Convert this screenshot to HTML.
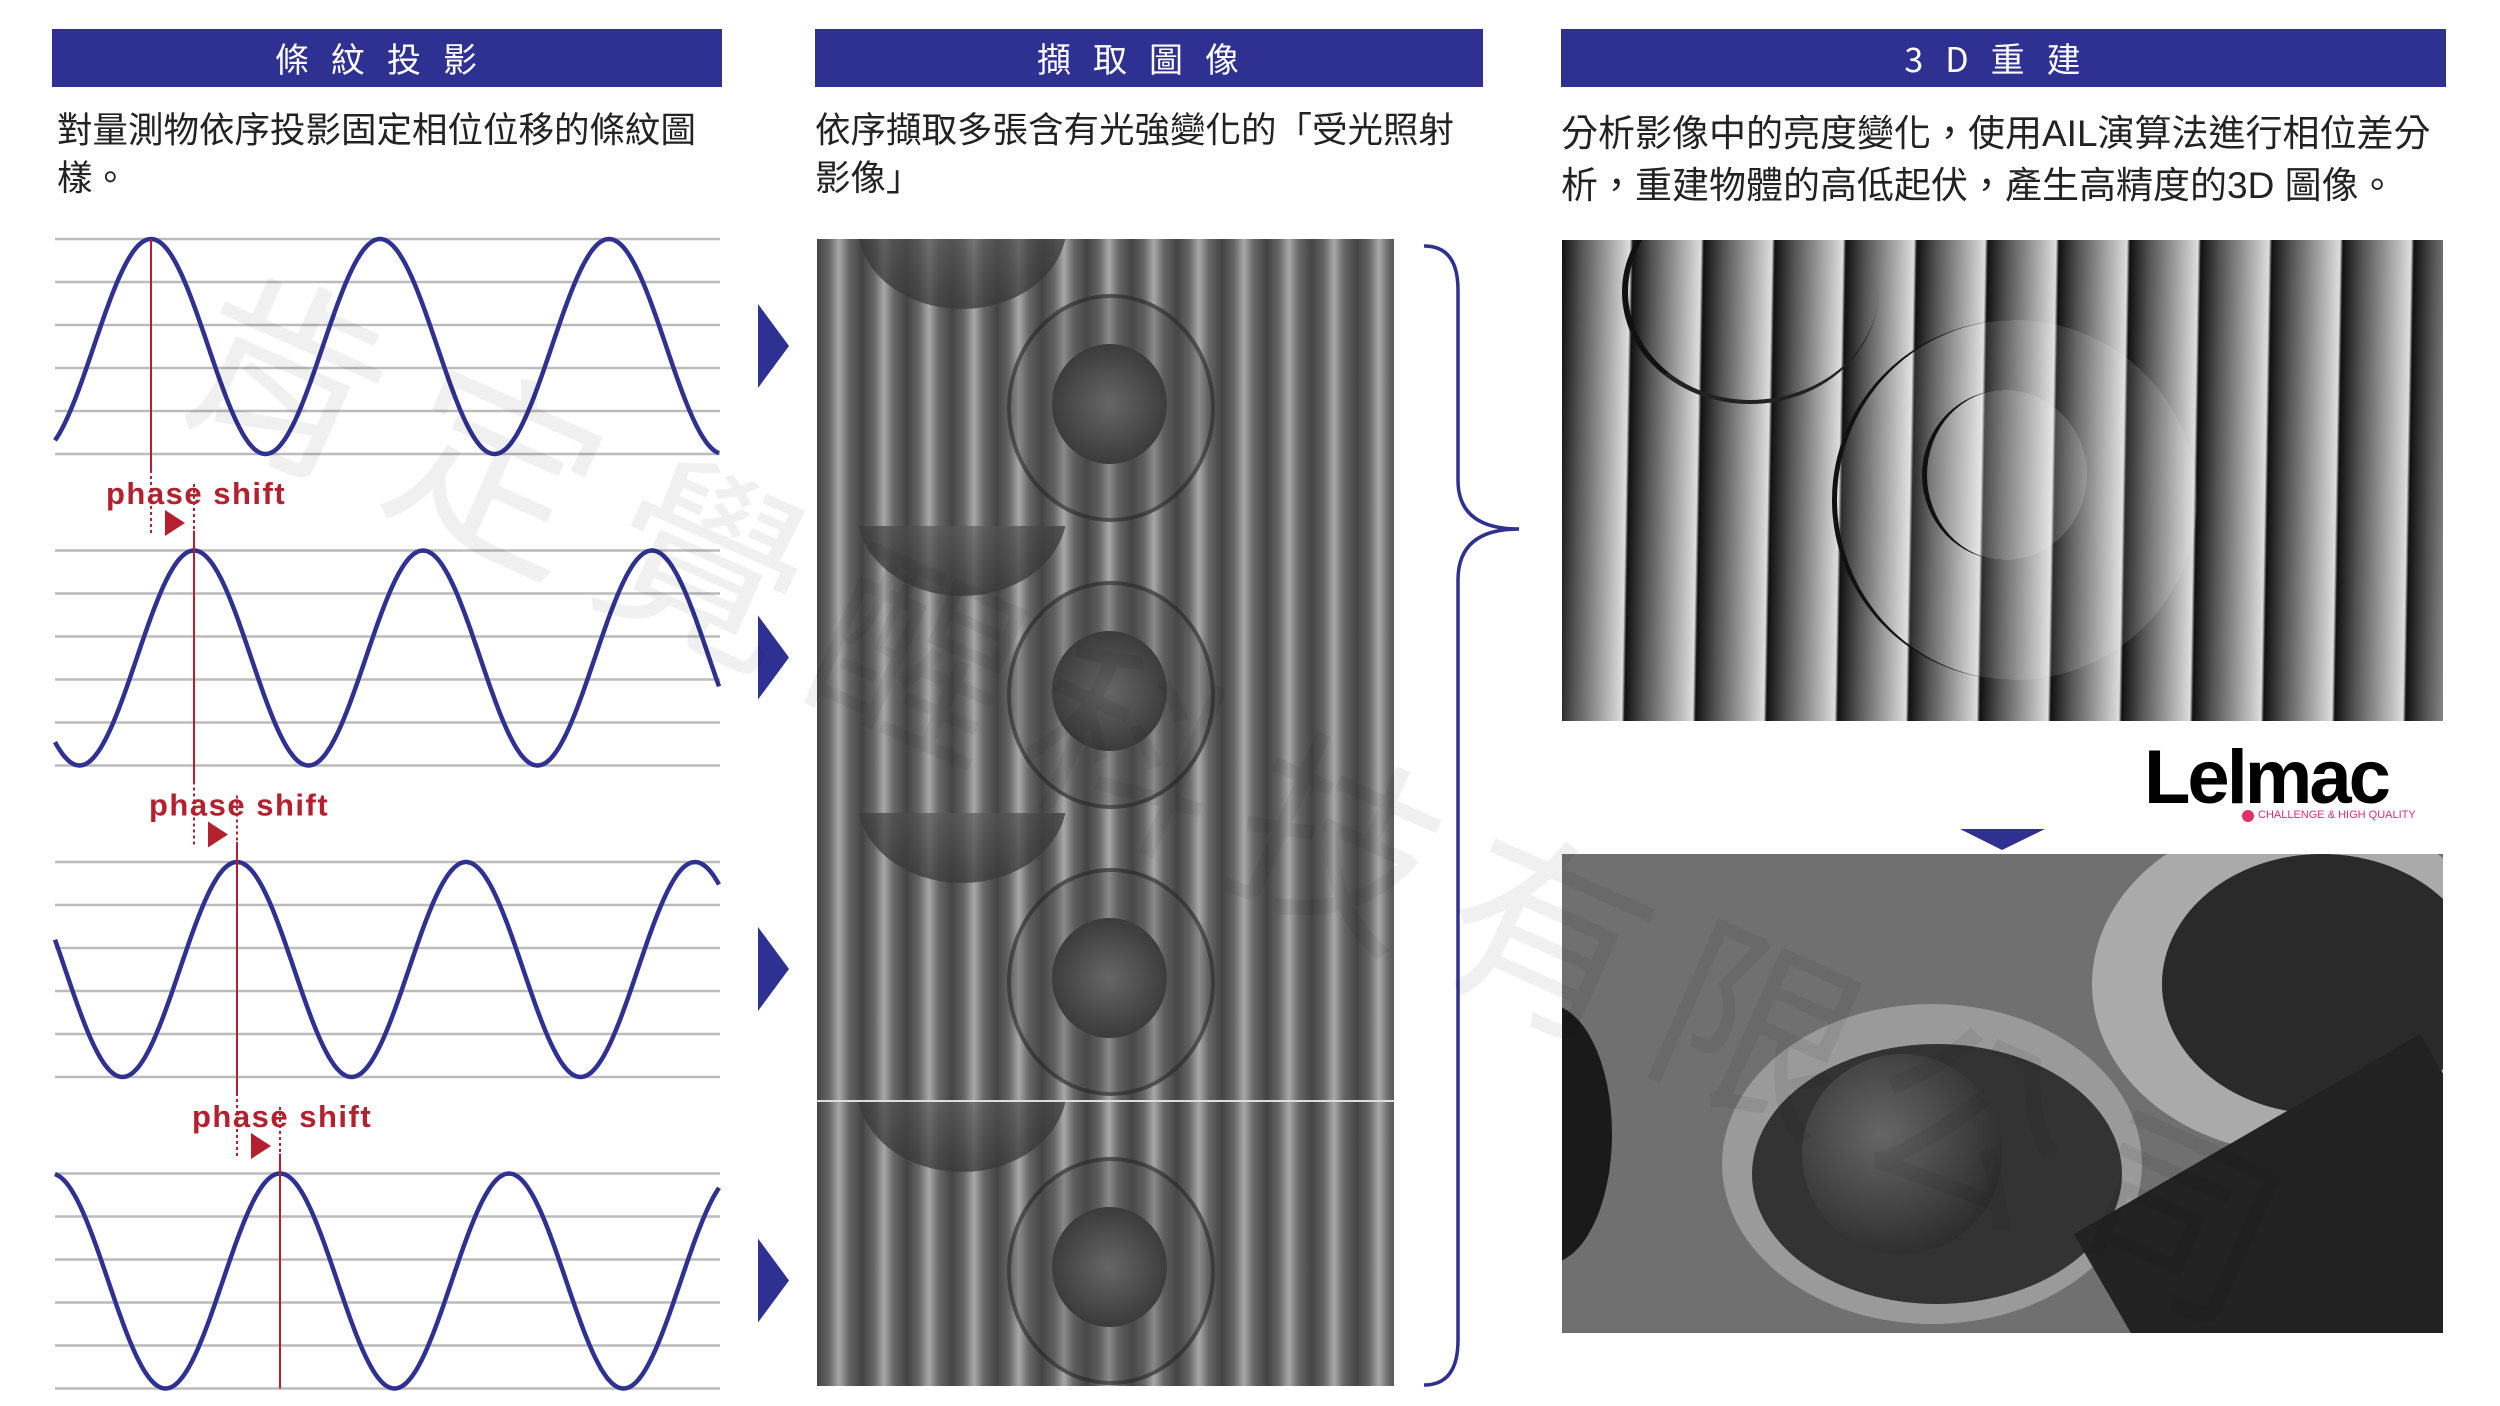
<!DOCTYPE html>
<html style="overflow:hidden;width:2500px;height:1406px;"><head><meta charset="utf-8"><style>
html,body{margin:0;padding:0;background:#fff;}
body{width:2500px;height:1406px;position:relative;overflow:hidden;font-family:"Liberation Sans","Noto Sans CJK TC",sans-serif;}
.hd{position:absolute;top:29px;height:58px;background:#2e3192;color:#fff;font-size:34px;line-height:58px;text-align:center;letter-spacing:22px;font-family:"Noto Sans CJK TC",sans-serif;}
.tx{position:absolute;color:#222;font-family:"Liberation Sans","Noto Sans CJK TC",sans-serif;white-space:nowrap;}
.img{position:absolute;overflow:hidden;}
.mid{width:579px;height:287px;position:absolute;left:0;overflow:hidden;
background:repeating-linear-gradient(90deg,#444 0px,#666 12px,#a8a8a8 22px,#666 32px,#444 45px);}
.wmw{position:absolute;left:0;top:0;width:2500px;height:1406px;overflow:hidden;z-index:5;pointer-events:none;}
.wm{position:absolute;left:260px;top:190px;font-size:200px;color:rgba(0,0,0,0.06);transform-origin:0 0;transform:rotate(24deg);white-space:nowrap;font-family:"Noto Sans CJK TC",sans-serif;letter-spacing:30px;}
</style></head><body>
<div class="hd" style="left:52px;width:670px;">條紋投影</div>
<div class="hd" style="left:815px;width:668px;">擷取圖像</div>
<div class="hd" style="left:1561px;width:885px;">3D重建</div>
<div class="tx" style="left:57px;top:106px;font-size:35.5px;line-height:48px;">對量測物依序投影固定相位位移的條紋圖<br>樣。</div>
<div class="tx" style="left:815px;top:106px;font-size:35.5px;line-height:48px;">依序擷取多張含有光強變化的「受光照射<br>影像」</div>
<div class="tx" style="left:1561px;top:108px;font-size:37px;line-height:52px;">分析影像中的亮度變化，使用AIL演算法進行相位差分<br>析，重建物體的高低起伏，產生高精度的3D 圖像。</div>

<svg id="waves" style="position:absolute;left:0;top:0" width="2500" height="1406"></svg>

<div class="img" style="left:817px;top:239px;width:577px;height:1147px;" id="midc"></div>

<div class="img" style="left:1562px;top:240px;width:881px;height:481px;background:repeating-linear-gradient(91deg,#111 0px,#555 20px,#aaa 50px,#ddd 68px,#111 71px);">
 <div style="position:absolute;left:270px;top:80px;width:360px;height:360px;border-radius:50%;background:rgba(255,255,255,.12);border-left:5px solid #111;"></div>
 <div style="position:absolute;left:360px;top:150px;width:160px;height:170px;border-radius:50%;background:rgba(255,255,255,.15);border-left:5px solid #111;"></div>
 <div style="position:absolute;left:60px;top:-60px;width:250px;height:220px;border-radius:50%;border-left:6px solid #111;border-bottom:4px solid #222;"></div>
</div>

<div style="position:absolute;left:2144px;top:738px;font-family:'Liberation Sans',sans-serif;font-weight:bold;font-size:76px;letter-spacing:-3px;color:#000;line-height:80px;">Lelmac</div>
<div style="position:absolute;left:2242px;top:810px;width:12px;height:12px;border-radius:50%;background:#e0306a;"></div>
<div style="position:absolute;left:2258px;top:809px;font-size:11px;color:#e0306a;font-family:'Liberation Sans',sans-serif;white-space:nowrap;">CHALLENGE &amp; HIGH QUALITY</div>

<div class="img" style="left:1562px;top:854px;width:881px;height:479px;background:#707070;">
 <div style="position:absolute;left:-80px;top:150px;width:130px;height:260px;border-radius:50%;background:#1a1a1a;"></div>
 <div style="position:absolute;left:160px;top:150px;width:420px;height:320px;border-radius:50%;background:#9a9a9a;"></div>
 <div style="position:absolute;left:190px;top:190px;width:370px;height:260px;border-radius:50%;background:#333;"></div>
 <div style="position:absolute;left:240px;top:200px;width:200px;height:200px;border-radius:50%;background:radial-gradient(circle at 40% 40%,#666,#1a1a1a);"></div>
 <div style="position:absolute;left:530px;top:-40px;width:420px;height:340px;border-radius:50%;background:#aaa;"></div>
 <div style="position:absolute;left:600px;top:0px;width:320px;height:260px;border-radius:50%;background:#2a2a2a;"></div>
 <div style="position:absolute;left:560px;top:260px;width:400px;height:300px;background:#222;transform:rotate(-30deg);"></div>
</div>

<div class="wmw"><div class="wm">肯定覺醒科技有限公司</div></div>

<script>
var mc=document.getElementById('midc'),mh='';
for(var j=0;j<4;j++){
 mh+='<div class="mid" style="top:'+(j*287)+'px;'+(j==3?'border-top:2px solid #ddd;':'')+'">'+
 '<div style="position:absolute;left:40px;top:-100px;width:210px;height:170px;border-radius:50%;background:radial-gradient(circle at 50% 30%,rgba(120,120,120,.6),rgba(40,40,40,.8));"></div>'+
 '<div style="position:absolute;left:190px;top:55px;width:200px;height:220px;border-radius:50%;border:4px solid rgba(30,30,30,.5);background:rgba(80,80,80,.35);"></div>'+
 '<div style="position:absolute;left:235px;top:105px;width:115px;height:120px;border-radius:50%;background:radial-gradient(circle,#666,#2a2a2a);"></div></div>';
}
mc.innerHTML=mh;
var s=document.getElementById('waves'),h='';
var B='#2e3192',R='#b5202e';
for(var k=0;k<4;k++){
 var y0=239+k*311.5;
 for(var i=0;i<6;i++){var y=y0+i*43;h+='<line x1="55" x2="720" y1="'+y+'" y2="'+y+'" stroke="#bbb" stroke-width="2.5"/>';}
 var px=151+43*k,P=229,A=(215)/2,c=y0+A,pts=[];
 for(var x=55;x<=720;x+=2){pts.push(x+','+(c-A*Math.cos(2*Math.PI*(x-px)/P)).toFixed(1));}
 h+='<polyline fill="none" stroke="'+B+'" stroke-width="4.5" points="'+pts.join(' ')+'"/>';
 var topY=k==0?y0:y0-20;
 h+='<line x1="'+px+'" x2="'+px+'" y1="'+topY+'" y2="'+(y0+215)+'" stroke="'+R+'" stroke-width="2"/>';
 if(k<3){
  var by=y0+215;
  h+='<line x1="'+px+'" x2="'+px+'" y1="'+by+'" y2="'+(by+16)+'" stroke="'+R+'" stroke-width="2"/>';
  h+='<line x1="'+px+'" x2="'+px+'" y1="'+(by+16)+'" y2="'+(by+82)+'" stroke="'+R+'" stroke-width="2" stroke-dasharray="3,3"/>';
  var nx=px+43;
  h+='<line x1="'+nx+'" x2="'+nx+'" y1="'+(by+30)+'" y2="'+(by+98)+'" stroke="'+R+'" stroke-width="2" stroke-dasharray="3,3"/>';
  h+='<polygon points="'+(px+14)+','+(by+56)+' '+(px+34)+','+(by+69)+' '+(px+14)+','+(by+82)+'" fill="'+R+'"/>';
  h+='<text x="'+(px-45)+'" y="'+(by+50)+'" font-family="Liberation Sans,sans-serif" font-weight="bold" font-size="31" fill="'+R+'" letter-spacing="1.5">phase shift</text>';
 }
 var ay=346+k*311.5;
 h+='<polygon points="758,'+(ay-42)+' 789,'+ay+' 758,'+(ay+42)+'" fill="'+B+'"/>';
}
h+='<path d="M1424,246 Q1458,246 1458,290 L1458,480 Q1458,529 1519,529 Q1458,529 1458,580 L1458,1340 Q1458,1385 1424,1385" fill="none" stroke="'+B+'" stroke-width="3.5"/>';
h+='<polygon points="1960,829 2045,829 2002,850" fill="'+B+'"/>';
s.innerHTML=h;
</script>
</body></html>
